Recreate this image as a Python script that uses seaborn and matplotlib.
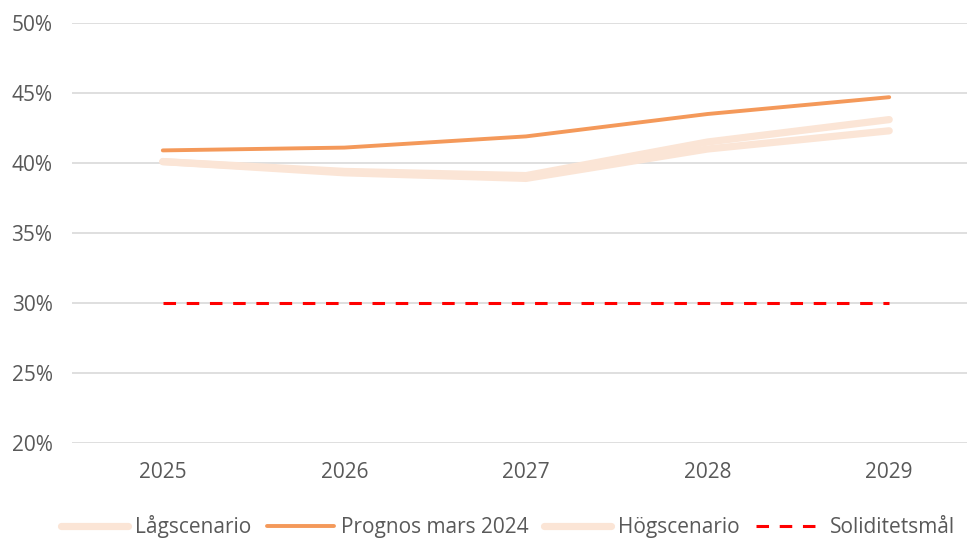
import matplotlib.pyplot as plt
import pandas as pd
import seaborn as sns
from matplotlib.ticker import FuncFormatter

# Data (equity ratio, %).
years = ["2025", "2026", "2027", "2028", "2029"]
lag_scenario = [40.1, 39.3, 38.9, 41.0, 42.3]
prognos_mars_2024 = [40.9, 41.1, 41.9, 43.5, 44.7]
hog_scenario = [40.1, 39.4, 39.1, 41.5, 43.1]
soliditetsmal = [30, 30, 30, 30, 30]

series = {
    "Lågscenario": lag_scenario,
    "Prognos mars 2024": prognos_mars_2024,
    "Högscenario": hog_scenario,
    "Soliditetsmål": soliditetsmal,
}

df = pd.DataFrame(
    [(name, y, v) for name, vals in series.items() for y, v in zip(years, vals)],
    columns=["serie", "year", "value"],
)

sns.set_style("white")
plt.rcParams["font.family"] = ["Open Sans", "DejaVu Sans"]

light = "#FBE5D6"
orange = "#F4995A"
styles = {
    "Lågscenario": dict(color=light, lw=5.2, ls="-"),
    "Prognos mars 2024": dict(color=orange, lw=2.8, ls="-"),
    "Högscenario": dict(color=light, lw=5.2, ls="-"),
    "Soliditetsmål": dict(color="#FF0000", lw=2.2, ls=(0, (4.1, 3.5))),
}

fig = plt.figure(figsize=(9.67, 5.38), dpi=100)
ax = fig.add_axes([72 / 967, 95 / 538, 908 / 967, 420 / 538])

for name in ["Högscenario", "Lågscenario", "Prognos mars 2024", "Soliditetsmål"]:
    st = styles[name]
    sub = df[df["serie"] == name]
    sns.lineplot(
        data=sub, x="year", y="value", ax=ax, color=st["color"],
        linewidth=st["lw"], linestyle=st["ls"], label=name,
        solid_capstyle="round", dash_capstyle="butt",
    )

ax.set_xlim(-0.5, 4.5)
ax.set_ylim(20, 50)
ax.set_yticks(range(20, 51, 5))
ax.yaxis.set_major_formatter(FuncFormatter(lambda v, _: f"{v:.0f}%"))
ax.grid(axis="y", color="#D9D9D9", linewidth=1.2)
ax.set_axisbelow(True)
for s in ax.spines.values():
    s.set_visible(False)
ax.tick_params(axis="both", length=0, labelsize=15, colors="#595959", pad=14)
ax.tick_params(axis="x", pad=14)
ax.set_xlabel("")
ax.set_ylabel("")

handles, labels = ax.get_legend_handles_labels()
order = ["Lågscenario", "Prognos mars 2024", "Högscenario", "Soliditetsmål"]
hmap = dict(zip(labels, handles))
ax.legend(
    [hmap[k] for k in order], order, loc="lower center", ncol=4,
    bbox_to_anchor=(508 / 967, -0.035), bbox_transform=fig.transFigure,
    frameon=False, fontsize=15, labelcolor="#595959", handlelength=3.2,
    columnspacing=0.75, handletextpad=0.35,
)

fig.savefig("out.png", dpi=100)
